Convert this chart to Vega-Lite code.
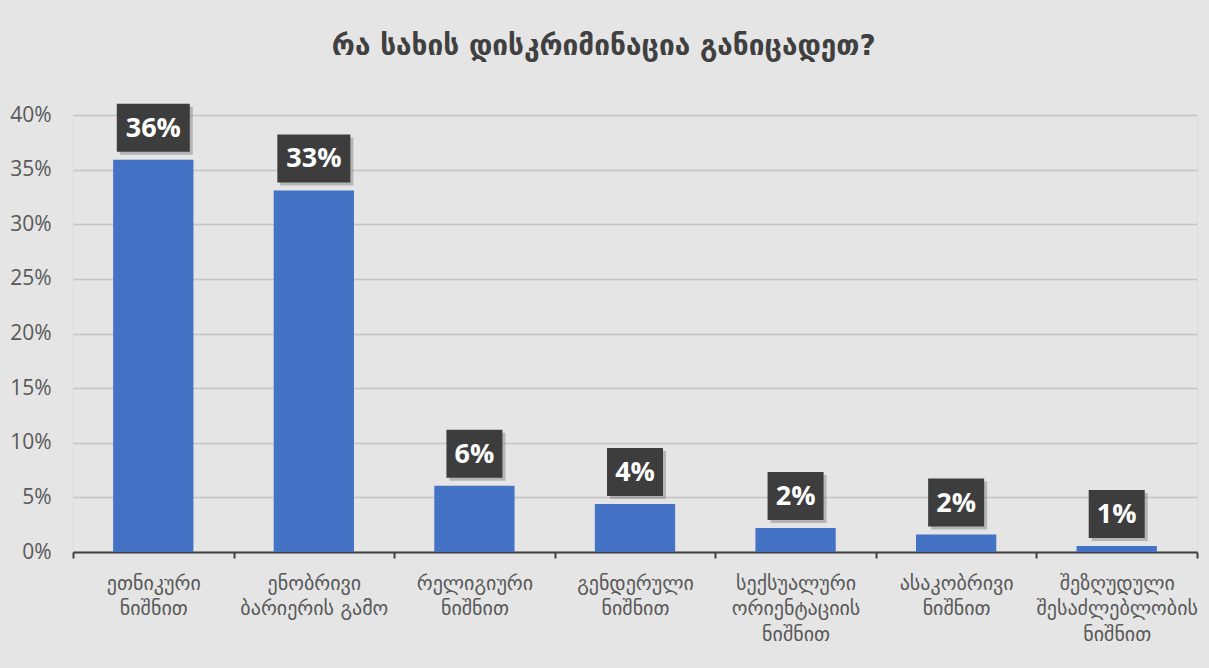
{
  "$schema": "https://vega.github.io/schema/vega-lite/v6.json",
  "width": 1124,
  "height": 437,
  "autosize": {"type": "none"},
  "padding": {"left": 73, "top": 115, "right": 12, "bottom": 116},
  "background": "#e5e5e5",
  "title": {
    "text": "რა სახის დისკრიმინაცია განიცადეთ?",
    "font": "DejaVu Sans",
    "fontSize": 28,
    "fontWeight": "bold",
    "color": "#404040",
    "anchor": "middle",
    "frame": "bounds",
    "offset": 43
  },
  "data": {
    "values": [
      {"category": "ეთნიკური\nნიშნით", "value": 0.359},
      {"category": "ენობრივი\nბარიერის გამო", "value": 0.331},
      {"category": "რელიგიური\nნიშნით", "value": 0.0606},
      {"category": "გენდერული\nნიშნით", "value": 0.044},
      {"category": "სექსუალური\nორიენტაციის\nნიშნით", "value": 0.022},
      {"category": "ასაკობრივი\nნიშნით", "value": 0.016},
      {"category": "შეზღუდული\nშესაძლებლობის\nნიშნით", "value": 0.0055}
    ]
  },
  "encoding": {
    "x": {
      "field": "category",
      "type": "nominal",
      "sort": null,
      "title": null,
      "scale": {"paddingInner": 0, "paddingOuter": 0},
      "axis": {
        "labelAngle": 0,
        "labelExpr": "split(datum.label, '\\n')",
        "labelFont": "DejaVu Sans",
        "labelFontSize": 20,
        "labelColor": "#595959",
        "labelLineHeight": 25.5,
        "labelPadding": 15,
        "labelLimit": 200,
        "domainColor": "#404040",
        "domainWidth": 2,
        "tickColor": "#404040",
        "tickWidth": 2,
        "tickSize": 6,
        "tickBand": "extent",
        "grid": false
      }
    },
    "y": {
      "field": "value",
      "type": "quantitative",
      "title": null,
      "scale": {"domain": [0, 0.4]},
      "axis": {
        "values": [0, 0.05, 0.1, 0.15, 0.2, 0.25, 0.3, 0.35, 0.4],
        "format": ".0%",
        "domain": false,
        "ticks": false,
        "labelFont": "Open Sans",
        "labelFontSize": 21,
        "labelColor": "#595959",
        "labelPadding": 22,
        "gridColor": "#c4c4c4",
        "gridWidth": 1.5
      }
    }
  },
  "layer": [
    {"mark": {"type": "bar", "color": "#4472C4", "width": {"band": 0.5}}},
    {
      "mark": {"type": "point", "filled": true, "color": "#7a7a7a", "opacity": 0.45, "xOffset": 3, "yOffset": -29},
      "encoding": {
        "shape": {"condition": {"test": "datum.value >= 0.095", "value": "M-1,-0.6575L1,-0.6575L1,0.6575L-1,0.6575Z"}, "value": "M-1,-0.857L1,-0.857L1,0.857L-1,0.857Z"},
        "size": {"condition": {"test": "datum.value >= 0.095", "value": 5329}, "value": 3136}
      }
    },
    {
      "mark": {"type": "point", "filled": true, "color": "#3d3d3d", "opacity": 1, "yOffset": -32},
      "encoding": {
        "shape": {"condition": {"test": "datum.value >= 0.095", "value": "M-1,-0.6575L1,-0.6575L1,0.6575L-1,0.6575Z"}, "value": "M-1,-0.857L1,-0.857L1,0.857L-1,0.857Z"},
        "size": {"condition": {"test": "datum.value >= 0.095", "value": 5329}, "value": 3136}
      }
    },
    {
      "mark": {"type": "text", "font": "Open Sans", "fontSize": 27, "fontWeight": "bold", "color": "#ffffff", "baseline": "middle", "yOffset": -31},
      "encoding": {"text": {"field": "value", "type": "quantitative", "format": ".0%"}}
    }
  ]
}
